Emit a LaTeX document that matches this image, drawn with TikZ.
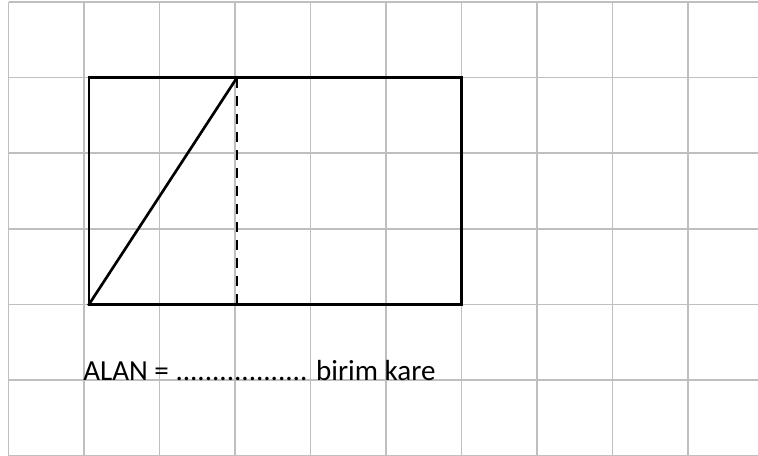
\documentclass[tikz,border=0pt]{standalone}
\usepackage{fontspec}
\setmainfont{Carlito}
\usetikzlibrary{positioning}
\definecolor{gridgray}{HTML}{BFBFBF}

\begin{document}
\begin{tikzpicture}[x=0.75pt,y=-0.75pt,
    g/.style={draw=gridgray,line width=1.1pt},
    b/.style={draw=black,line width=2pt,line cap=rect},
    d/.style={draw=black,line width=1.8pt,dash pattern=on 7.5pt off 6pt},
    t/.style={font=\fontsize{21.8}{24}\selectfont,inner sep=0pt,anchor=base west}]
    \useasboundingbox (0,0) rectangle (758,456);
    % grid
    \foreach \i in {0,...,9}
      \draw[g] (8.5+75.5*\i,2) -- (8.5+75.5*\i,455.6);
    \foreach \j in {0,...,6}
      \draw[g] (8.5,2+75.6*\j) -- (758,2+75.6*\j);
    % rectangle and cuts
    \coordinate (tl) at (89,77.6);
    \coordinate (br) at (461.5,304.4);
    \coordinate (bl) at (89,304.4);
    \coordinate (tm) at (237,77.6);
    \coordinate (bm) at (237,304.4);
    \draw[d] (tm) -- (bm);
    \draw[b] (bl) -- (tm);
    \draw[b] (tl) rectangle (br);
    \node[t] (alan) at (83,381) {ALAN = .................. birim kare};
\end{tikzpicture}
\end{document}
